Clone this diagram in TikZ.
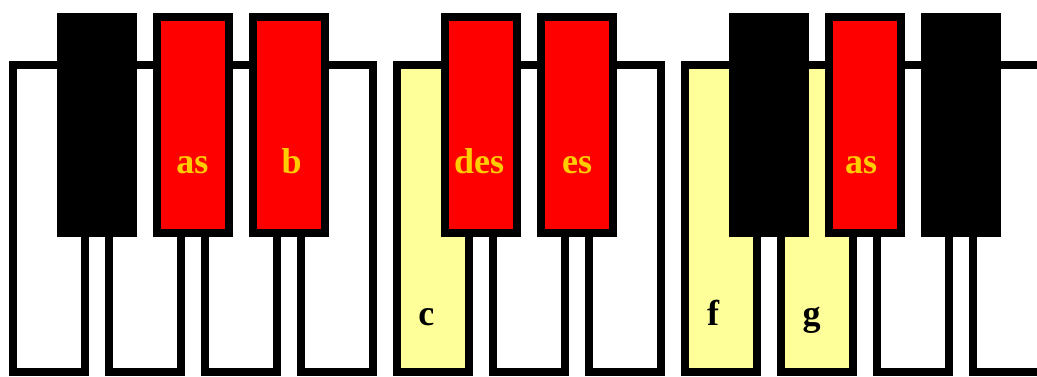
\documentclass[tikz,border=0pt]{standalone}
\usepackage{fontspec}
\setmainfont{Liberation Serif}
\usetikzlibrary{positioning}
\definecolor{keyyellow}{HTML}{FFFF99}
\definecolor{labelgold}{HTML}{FFCC00}
\tikzstyle{whitekey} = [rectangle, minimum width=54pt, minimum height=230.25pt, inner sep=0pt, line width=6pt, draw=black, fill=white]
\tikzstyle{markedkey} = [whitekey, fill=keyyellow]
\tikzstyle{blackkey} = [rectangle, minimum width=54pt, minimum height=162pt, inner sep=0pt, line width=6pt, draw=black, fill=black]
\tikzstyle{redkey} = [blackkey, fill=red]
\tikzstyle{redname} = [anchor=base, inner sep=0pt, text=labelgold, font=\fontsize{27}{32}\selectfont\bfseries]
\tikzstyle{whitename} = [anchor=base, inner sep=0pt, text=black, font=\fontsize{27}{32}\selectfont\bfseries]

\begin{document}
\begin{tikzpicture}[node distance=72pt]
\useasboundingbox (0,0) rectangle (777.75pt,-282pt);

% white keys: f g a b | c d e f g a b
\node (w1) [whitekey] at (36.75pt,-163.875pt) {};
\node (w2) [whitekey, right of=w1] {};
\node (w3) [whitekey, right of=w2] {};
\node (w4) [whitekey, right of=w3] {};
\node (w5) [markedkey, right of=w4] {};
\node (w6) [whitekey, right of=w5] {};
\node (w7) [whitekey, right of=w6] {};
\node (w8) [markedkey, right of=w7] {};
\node (w9) [markedkey, right of=w8] {};
\node (w10) [whitekey, right of=w9] {};
\node (w11) [whitekey, right of=w10] {};

% black keys
\node (k1) [blackkey] at (72.75pt,-93.75pt) {};
\node (k2) [redkey, right of=k1] {};
\node (k3) [redkey, right of=k2] {};
\node (k4) [redkey, right of=k3, xshift=72pt] {};
\node (k5) [redkey, right of=k4] {};
\node (k6) [blackkey, right of=k5, xshift=72pt] {};
\node (k7) [redkey, right of=k6] {};
\node (k8) [blackkey, right of=k7] {};

% names
\node (n2) [redname, below=36pt of k2.center, anchor=base, xshift=-0.5pt] {as};
\node (n3) [redname, below=36pt of k3.center, anchor=base, xshift=2pt] {b};
\node (n4) [redname, below=36pt of k4.center, anchor=base, xshift=-1.5pt] {des};
\node (n5) [redname, below=36pt of k5.center, anchor=base] {es};
\node (n7) [redname, below=36pt of k7.center, anchor=base, xshift=-3pt] {as};

\node (c) [whitename, below=80pt of w5.center, anchor=base, xshift=-5pt] {c};
\node (f) [whitename, below=80pt of w8.center, anchor=base, xshift=-6pt] {f};
\node (g) [whitename, below=80pt of w9.center, anchor=base, xshift=-4pt] {g};

\end{tikzpicture}
\end{document}
